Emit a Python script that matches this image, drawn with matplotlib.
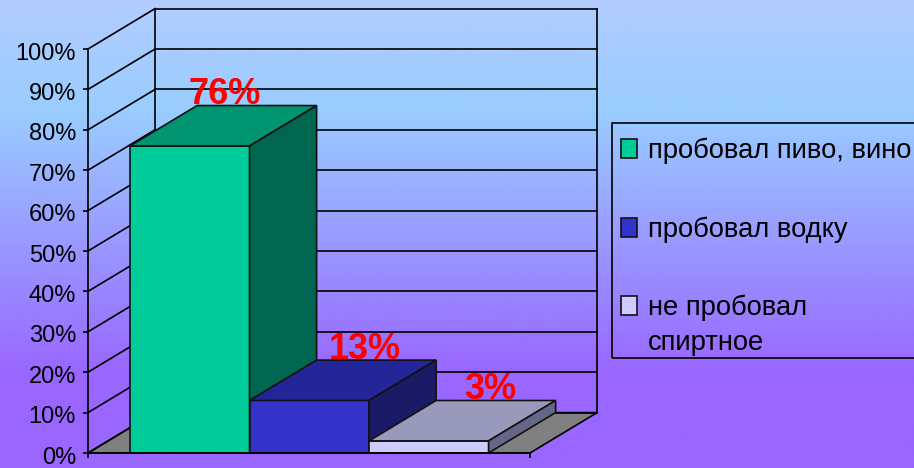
import numpy as np
import matplotlib.pyplot as plt
from matplotlib.patches import Polygon, Rectangle
from matplotlib.colors import LinearSegmentedColormap
from matplotlib.transforms import ScaledTranslation

W, H = 914, 468

categories = ['пробовал пиво, вино', 'пробовал водку', 'не пробовал', 'спиртное']
values = [76, 13, 3]
value_labels = ['76%', '13%', '3%']
y_ticks = list(range(0, 101, 10))
y_tick_labels = [f'{v}%' for v in y_ticks]

front_colors = ['#00CC99', '#3333CC', '#CCCCFF']
top_colors = ['#009470', '#25259A', '#9999BB']
side_colors = ['#006650', '#1A1A66', '#666688']

plt.rcParams['font.family'] = ['Liberation Sans', 'DejaVu Sans']

fig = plt.figure(figsize=(W / 100, H / 100), dpi=100)


def px_rect(x0, y0, x1, y1):
    """Figure-fraction rectangle from image pixels (y down)."""
    return [x0 / W, 1 - y1 / H, (x1 - x0) / W, (y1 - y0) / H]


# background gradient
bg = fig.add_axes([0, 0, 1, 1], zorder=0)
cmap = LinearSegmentedColormap.from_list('bg', [
    (0.0, '#B3CCFF'), (0.24, '#99CCFF'), (0.8, '#9966FF'), (1.0, '#9966FF')])
bg.imshow(np.linspace(0, 1, 256).reshape(-1, 1), aspect='auto', cmap=cmap,
          extent=[0, 1, 0, 1], vmin=0, vmax=1)
bg.axis('off')

# chart axes: the front edge of the floor and the left edge
ax = fig.add_axes(px_rect(88, 49, 530, 453), zorder=1)
ax.patch.set_alpha(0)
xmax = 3.68
ax.set_xlim(0, xmax)
ax.set_ylim(0, 100)
for s in ['top', 'right']:
    ax.spines[s].set_visible(False)
for s in ['left', 'bottom']:
    ax.spines[s].set_linewidth(1.2)
    ax.spines[s].set_zorder(10)
ax.set_xticks([0, xmax])
ax.set_xticklabels(['', ''])
ax.set_yticks(y_ticks)
ax.set_yticklabels(y_tick_labels, fontsize=17)
ax.tick_params(axis='both', length=3.6, width=1.2, color='black', pad=5)
shift = ScaledTranslation(0, -2 / 100, fig.dpi_scale_trans)
for lab in ax.get_yticklabels():
    lab.set_transform(lab.get_transform() + shift)

# depth of the oblique projection in data units
dx = 67 / 120
dy = 10
lw = 1.2

# floor
ax.add_patch(Polygon([(0, 0), (xmax, 0), (xmax + dx, dy), (dx, dy)],
                     fc='#808080', ec='black', lw=lw, clip_on=False, zorder=1))
# walls
for v in y_ticks:
    ax.plot([0, dx], [v, v + dy], color='black', lw=lw, clip_on=False, zorder=1.5)
    ax.plot([dx, xmax + dx], [v + dy, v + dy], color='black', lw=lw, clip_on=False, zorder=1.5)
for x in [dx, xmax + dx]:
    ax.plot([x, x], [dy, 100 + dy], color='black', lw=lw, clip_on=False, zorder=1.5)

# bars, left to right so each one overlaps the side of the previous
left = 0.35
bw = 0.995
label_dx = [0.29, 0.46, 0.51]
for i, v in enumerate(values):
    x0 = left + i * bw
    x1 = x0 + bw
    z = 3 + i
    ax.add_patch(Polygon([(x0, 0), (x1, 0), (x1, v), (x0, v)],
                         fc=front_colors[i], ec='#111111', lw=lw, zorder=z, clip_on=False))
    ax.add_patch(Polygon([(x0, v), (x1, v), (x1 + dx, v + dy), (x0 + dx, v + dy)],
                         fc=top_colors[i], ec='#111111', lw=lw, zorder=z, clip_on=False))
    ax.add_patch(Polygon([(x1, 0), (x1 + dx, dy), (x1 + dx, v + dy), (x1, v)],
                         fc=side_colors[i], ec='#111111', lw=lw, zorder=z, clip_on=False))
    ax.text(x0 + bw / 2 + label_dx[i], v + dy + 0.3, value_labels[i], color='#FF0000',
            fontsize=26, fontweight='bold', ha='center', va='baseline', zorder=8,
            clip_on=False)

# legend box
box = px_rect(612, 123, 930, 358)
fig.add_artist(Rectangle((box[0], box[1]), box[2], box[3], transform=fig.transFigure,
                         fc='none', ec='black', lw=1.2, zorder=5))
for c, ly in zip(front_colors, [149, 228, 306]):
    sq = px_rect(621, ly - 10, 637, ly + 9)
    fig.add_artist(Rectangle((sq[0], sq[1]), sq[2], sq[3], transform=fig.transFigure,
                             fc=c, ec='#111111', lw=1.2, zorder=5))
for name, base in zip(categories, [158, 237, 315, 350]):
    fig.text(648 / W, 1 - base / H, name, fontsize=19.7, color='black', ha='left',
             va='baseline', zorder=5)

fig.savefig('out.png', dpi=100)
